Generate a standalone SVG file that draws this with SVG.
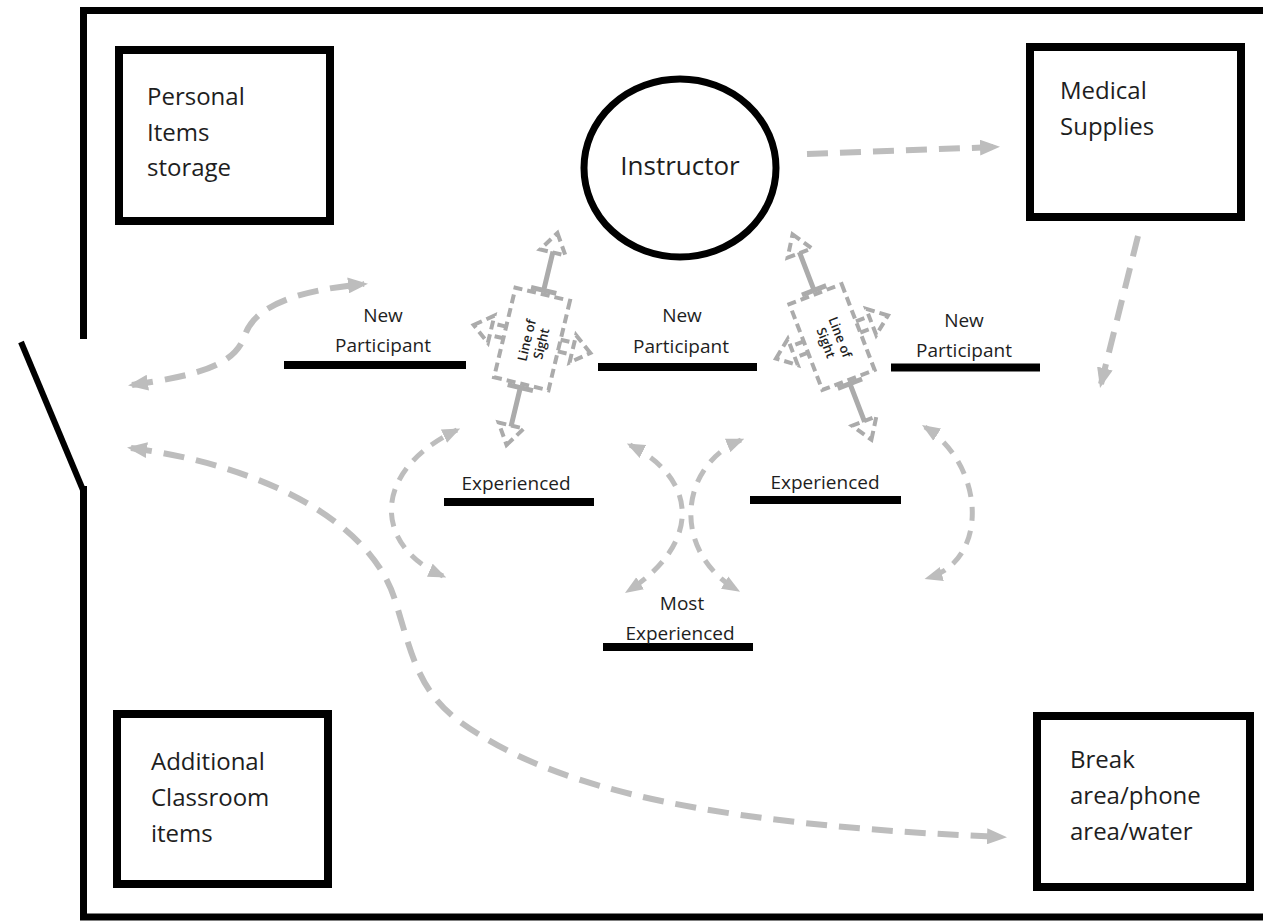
<svg xmlns="http://www.w3.org/2000/svg" width="1263" height="922" viewBox="0 0 1263 922">
<style>
.wall{fill:none;stroke:#000;stroke-width:7;stroke-linejoin:miter}
.box{fill:#fff;stroke:#000;stroke-width:8}
.bar{fill:none;stroke:#000;stroke-width:8}
.t{font-family:"Open Sans","Noto Sans",sans-serif;fill:#1e1e1e}
.bt{font-size:24px}
.lt{font-size:19px;text-anchor:middle}
.los{font-size:13px;font-weight:600;text-anchor:middle}
.arr{fill:none;stroke:#bdbdbd;stroke-width:6;stroke-dasharray:21 12}
.arr2{fill:none;stroke:#bdbdbd;stroke-width:5;stroke-dasharray:14 10}
.ls{fill:none;stroke:#ababab;stroke-width:5}
.ld{fill:none;stroke:#ababab;stroke-width:4;stroke-dasharray:9 5}
</style>
<defs>
<marker id="ah" viewBox="0 0 20 16" refX="16" refY="8" markerWidth="20" markerHeight="16" markerUnits="userSpaceOnUse" orient="auto-start-reverse">
<path d="M0,0 L20,8 L0,16 Z" fill="#bdbdbd"/>
</marker>
<marker id="ahs" viewBox="0 0 20 16" refX="16" refY="8" markerWidth="18" markerHeight="15" markerUnits="userSpaceOnUse" orient="auto-start-reverse">
<path d="M0,0 L20,8 L0,16 Z" fill="#bdbdbd"/>
</marker>
</defs>
<rect width="1263" height="922" fill="#fff"/>

<g id="walls">
<path class="wall" d="M1263,10.5 H83.5 V339"/>
<path class="wall" d="M83.5,486 V917 H1263"/>
<path d="M21,342 L83,490" stroke="#000" stroke-width="6" fill="none"/>
</g>

<g id="personal-items">
<rect class="box" x="119" y="50" width="211" height="171"/>
<text class="t bt" x="147" y="105">Personal</text>
<text class="t bt" x="147" y="141">Items</text>
<text class="t bt" x="147" y="176">storage</text>
</g>

<g id="medical-supplies">
<rect class="box" x="1030" y="47" width="211" height="170"/>
<text class="t bt" x="1060" y="99">Medical</text>
<text class="t bt" x="1060" y="135">Supplies</text>
</g>

<g id="additional-items">
<rect class="box" x="117" y="714" width="211" height="170"/>
<text class="t bt" x="151" y="770">Additional</text>
<text class="t bt" x="151" y="806">Classroom</text>
<text class="t bt" x="151" y="842">items</text>
</g>

<g id="break-area">
<rect class="box" x="1037" y="716" width="213" height="171"/>
<text class="t bt" x="1070" y="768">Break</text>
<text class="t bt" x="1070" y="804">area/phone</text>
<text class="t bt" x="1070" y="840">area/water</text>
</g>

<g id="instructor">
<ellipse cx="680" cy="168" rx="96" ry="89" fill="#fff" stroke="#000" stroke-width="7"/>
<text class="t" x="680" y="175" font-size="26" text-anchor="middle">Instructor</text>
</g>

<g id="new-participant-left">
<path class="bar" d="M284,365 H466"/>
<text class="t lt" x="383" y="322">New</text>
<text class="t lt" x="383" y="352">Participant</text>
</g>

<g id="new-participant-middle">
<path class="bar" d="M598,367 H757"/>
<text class="t lt" x="682" y="322">New</text>
<text class="t lt" x="681" y="353">Participant</text>
</g>

<g id="new-participant-right">
<path class="bar" d="M891,367.5 H1040"/>
<text class="t lt" x="964" y="327">New</text>
<text class="t lt" x="964" y="357">Participant</text>
</g>

<g id="experienced-left">
<path class="bar" d="M444,502 H594"/>
<text class="t lt" x="516" y="490">Experienced</text>
</g>

<g id="experienced-right">
<path class="bar" d="M750,500 H901"/>
<text class="t lt" x="825" y="489">Experienced</text>
</g>

<g id="most-experienced">
<path class="bar" d="M603,647 H753"/>
<text class="t lt" x="682" y="610">Most</text>
<text class="t lt" x="680" y="640">Experienced</text>
</g>

<g id="line-of-sight-left">
<g transform="translate(532,339) rotate(103.5)">
<path class="ls" d="M-90,0 H-50 M-50,-13 V13 M50,0 H90 M50,-13 V13"/>
<path class="ld" d="M-109,0 L-89,-13 L-89,13 Z M109,0 L89,-13 L89,13 Z"/>
<rect class="ld" x="-46" y="-28" width="92" height="56"/>
<path class="ld" d="M-6,-28 V-42 M6,-28 V-42 M-6,28 V42 M6,28 V42"/>
<path class="ld" d="M0,-60 L-14,-42 L14,-42 Z M0,60 L-14,42 L14,42 Z"/>
</g>
<g transform="translate(534,342) rotate(-76.5)">
<text class="t los" x="0" y="-3">Line of</text>
<text class="t los" x="0" y="12">Sight</text>
</g>
</g>

<g id="line-of-sight-right">
<g transform="translate(832,337) rotate(69)">
<path class="ls" d="M-91,0 H-50 M-50,-13 V13 M50,0 H91 M50,-13 V13"/>
<path class="ld" d="M-110,0 L-90,-13 L-90,13 Z M110,0 L90,-13 L90,13 Z"/>
<rect class="ld" x="-46" y="-28" width="92" height="56"/>
<path class="ld" d="M-6,-28 V-42 M6,-28 V-42 M-6,28 V42 M6,28 V42"/>
<path class="ld" d="M0,-60 L-14,-42 L14,-42 Z M0,60 L-14,42 L14,42 Z"/>
</g>
<g transform="translate(833,340) rotate(69)">
<text class="t los" x="0" y="-3">Line of</text>
<text class="t los" x="0" y="12">Sight</text>
</g>
</g>

<g id="connectors">
<path class="arr" d="M132,385 C200,375 235,365 245,335 C255,305 300,290 364,284" marker-start="url(#ah)" marker-end="url(#ah)"/>
<path class="arr" d="M131,448 C260,465 370,520 395,600 C415,665 420,700 480,735 C560,785 700,825 1003,837" marker-start="url(#ah)" marker-end="url(#ah)"/>
<path class="arr" d="M807,154 L996,147" marker-end="url(#ah)"/>
<path class="arr" d="M1138,236 L1101,384" marker-end="url(#ah)"/>
<path class="arr2" d="M443,576 C372,545 372,470 457,430" marker-start="url(#ahs)" marker-end="url(#ahs)"/>
<path class="arr2" d="M630,445 C700,480 700,545 628,591" marker-start="url(#ahs)" marker-end="url(#ahs)"/>
<path class="arr2" d="M741,440 C680,465 670,550 737,590" marker-start="url(#ahs)" marker-end="url(#ahs)"/>
<path class="arr2" d="M925,427 C985,465 990,560 928,578" marker-start="url(#ahs)" marker-end="url(#ahs)"/>
</g>
</svg>
